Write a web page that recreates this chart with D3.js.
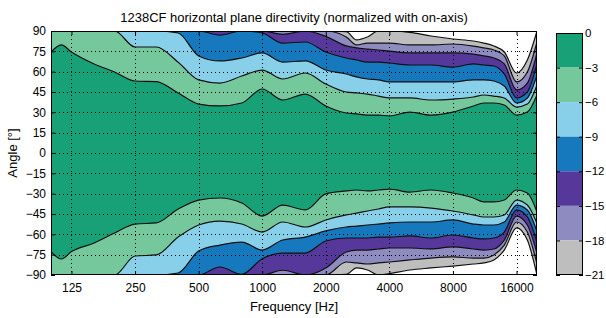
<!DOCTYPE html>
<html>
<head>
<meta charset="utf-8">
<script src="https://cdn.jsdelivr.net/npm/d3@7"></script>
<style>
  body { margin: 0; background: #fff; overflow: hidden; }
  svg { display: block; }
  text { font-family: "Liberation Sans", Arial, sans-serif; fill: #000; }
</style>
</head>
<body>
<div id="chart"></div>
<script>
// frequency grid (Hz) at which the contour angles were read
const freqs = [100, 112, 125, 160, 200, 250, 315, 400, 500, 630, 800, 1000, 1250, 1600, 2000,
               2500, 2800, 3150, 3550, 4000, 5000, 6300, 8000, 10000, 11200, 12500, 14000, 16000, 18000, 20000];

const freqTicks = [125, 250, 500, 1000, 2000, 4000, 8000, 16000];
const angleTicks = [90, 75, 60, 45, 30, 15, 0, -15, -30, -45, -60, -75, -90];
const levels = [0, -3, -6, -9, -12, -15, -18, -21];
const bandColors = ["#18a077", "#75c79c", "#88cfea", "#1679be", "#56389a", "#8d8bc0", "#bebebe", "#ffffff"];

// contour angle (deg) of each level, positive side
const up3  = [74.5, 79.7, 74.5, 65.7, 59.8, 53.1, 52.7, 44.3, 36.1, 34.7, 36.9, 47.2, 39.1, 43.5, 34.7,
              29.5, 28.8, 28.0, 28.0, 27.3, 30.2, 28.0, 30.2, 34.7, 36.9, 36.9, 35.4, 28.0, 30.2, 42.8];
const up6  = [90, 90, 90, 90, 90, 78.2, 78.2, 67, 53.9, 51.6, 56.8, 61.2, 54.6, 59.0, 50.9,
              45.0, 44.3, 43.5, 42.0, 40.6, 40.6, 39.1, 39.8, 41.3, 42.8, 42.0, 40.6, 33.9, 36.1, 50.2];
const up9  = [90, 90, 90, 90, 90, 90, 90, 88.5, 71.6, 67.9, 70.1, 73.8, 67.1, 67.9, 61.2,
              58.3, 56.1, 54.6, 53.9, 52.4, 52.4, 52.4, 52.4, 53.9, 53.9, 53.1, 49.4, 36.9, 40.6, 57.5];
const up12 = [90, 90, 90, 90, 90, 90, 90, 90, 90, 87, 90, 88.5, 81.1, 81.9, 74.5,
              70.1, 68.6, 67.1, 67.1, 66.4, 64.9, 64.9, 63.4, 65.7, 64.9, 64.2, 58.3, 40.6, 45, 66];
const up15 = [90, 90, 90, 90, 90, 90, 90, 90, 90, 90, 90, 90, 87.5, 90, 86,
              79, 77.5, 76.7, 76.0, 75.2, 73.8, 73.8, 73.8, 73.0, 71.6, 70.1, 65.7, 46.5, 51.6, 74];
const up18 = [90, 90, 90, 90, 90, 90, 90, 90, 90, 90, 90, 90, 90, 90, 90,
              85.6, 79.7, 81.1, 81.1, 81.1, 79.7, 79.7, 80.4, 78.9, 77.5, 76, 71.6, 52.4, 59.8, 82];
const up21 = [90, 90, 90, 90, 90, 90, 90, 90, 90, 90, 90, 90, 90, 90, 90,
              89.5, 83.4, 85.6, 90, 90, 89, 86.3, 84.1, 82.6, 81.1, 78.9, 74.5, 59, 68.6, 90];

// negative side
const lo3  = [-72.8, -78.2, -72.7, -66.4, -59.0, -52.4, -51.6, -41.3, -34.7, -33.2, -36.9, -46.5, -38.4, -42.0, -30.2,
              -28.0, -27.3, -28.0, -27.3, -26.6, -28.8, -27.3, -29.5, -33.2, -36.1, -36.1, -34.7, -27.3, -29.5, -43.5];
const lo6  = [-90, -90, -90, -90, -90, -76, -75.2, -62, -53.1, -50.2, -52.4, -58.3, -50.9, -54.6, -49.4,
              -45.7, -44.3, -42.8, -41.3, -39.8, -39.8, -40.6, -42.8, -45.7, -47.2, -47.2, -45.7, -34.7, -38.4, -52];
const lo9  = [-90, -90, -90, -90, -90, -90, -90, -88.5, -72.3, -67.9, -65.7, -71.6, -64.2, -62, -57.5,
              -54.6, -53.9, -53.1, -52.4, -51.6, -50.9, -50.9, -49.4, -52.4, -53.1, -53.1, -50.9, -38.4, -42, -58];
const lo12 = [-90, -90, -90, -90, -90, -90, -90, -90, -90, -84.1, -89.5, -78, -73.8, -73.8, -64.9,
              -62.7, -62.7, -62.7, -62, -62, -61.2, -62.7, -60.5, -62.7, -63.4, -62.7, -58.3, -42, -47.2, -66];
const lo15 = [-90, -90, -90, -90, -90, -90, -90, -90, -90, -90, -90, -90, -86.5, -90, -84.8,
              -73, -71.6, -71.6, -70.8, -70.1, -70.1, -70.8, -69.3, -70.8, -71.6, -70.8, -64.2, -46.5, -53.1, -74];
const lo18 = [-90, -90, -90, -90, -90, -90, -90, -90, -90, -90, -90, -90, -90, -90, -90,
              -80.4, -81.1, -81.9, -81.1, -80.4, -78.9, -77.5, -76.7, -77.5, -77.5, -75.2, -67.9, -50.9, -58.3, -82];
const lo21 = [-90, -90, -90, -90, -90, -90, -90, -90, -90, -90, -90, -90, -90, -90, -90,
              -89.5, -84.8, -86.3, -90, -89, -86.3, -84.8, -83.4, -81.9, -81.1, -78.9, -71.6, -55.3, -64.2, -90];

const upper = [up3, up6, up9, up12, up15, up18, up21];
const lower = [lo3, lo6, lo9, lo12, lo15, lo18, lo21];

// layout
const W = 606, H = 318;
const plot = { left: 51, right: 537, top: 31, bottom: 275 };
const bar = { left: 556, right: 583, top: 33, bottom: 275 };

const svg = d3.select("#chart").append("svg")
    .attr("width", W)
    .attr("height", H);

const x = d3.scaleLog().domain([100, 20000]).range([plot.left, plot.right]);
const y = d3.scaleLinear().domain([-90, 90]).range([plot.bottom, plot.top]);

svg.append("clipPath").attr("id", "clip")
  .append("rect")
    .attr("x", plot.left).attr("y", plot.top)
    .attr("width", plot.right - plot.left).attr("height", plot.bottom - plot.top);

const g = svg.append("g").attr("clip-path", "url(#clip)");

g.append("rect")
    .attr("x", plot.left).attr("y", plot.top)
    .attr("width", plot.right - plot.left).attr("height", plot.bottom - plot.top)
    .attr("fill", bandColors[0]);

const pts = arr => arr.map((a, i) => ({ f: freqs[i], a: a }));

// filled bands, from the -3 contour outwards
upper.forEach((arr, i) => {
  g.append("path")
      .datum(pts(arr))
      .attr("fill", bandColors[i + 1])
      .attr("d", d3.area().x(d => x(d.f)).y0(y(90)).y1(d => y(d.a)).curve(d3.curveMonotoneX));
});
lower.forEach((arr, i) => {
  g.append("path")
      .datum(pts(arr))
      .attr("fill", bandColors[i + 1])
      .attr("d", d3.area().x(d => x(d.f)).y0(y(-90)).y1(d => y(d.a)).curve(d3.curveMonotoneX));
});

// contour lines
const line = d3.line().x(d => x(d.f)).y(d => y(d.a)).curve(d3.curveMonotoneX);
upper.concat(lower).forEach(arr => {
  g.append("path")
      .datum(pts(arr))
      .attr("fill", "none")
      .attr("stroke", "#111")
      .attr("stroke-width", 1.2)
      .attr("d", line);
});

// dotted grid
svg.append("g").selectAll("line")
  .data(freqTicks)
  .join("line")
    .attr("x1", d => Math.round(x(d)) + 0.5).attr("x2", d => Math.round(x(d)) + 0.5)
    .attr("y1", plot.top).attr("y2", plot.bottom)
    .attr("stroke", "#000").attr("stroke-dasharray", "1,3");
svg.append("g").selectAll("line")
  .data(angleTicks.filter(d => Math.abs(d) < 90))
  .join("line")
    .attr("x1", plot.left).attr("x2", plot.right)
    .attr("y1", d => Math.round(y(d)) + 0.5).attr("y2", d => Math.round(y(d)) + 0.5)
    .attr("stroke", "#000").attr("stroke-dasharray", "1,3");

// axes
const styleAxis = (sel, size = 12) => {
  sel.select(".domain").remove();
  sel.selectAll("text").attr("font-size", size).attr("font-family", "Liberation Sans, Arial, sans-serif");
};

svg.append("g")
    .attr("transform", `translate(0,${plot.bottom})`)
    .call(d3.axisBottom(x).tickValues(freqTicks).tickFormat(d3.format("d")).tickSize(-4).tickPadding(8))
    .call(styleAxis);
svg.append("g")
    .attr("transform", `translate(0,${plot.top})`)
    .call(d3.axisTop(x).tickValues(freqTicks).tickFormat("").tickSize(-4))
    .call(styleAxis);
svg.append("g")
    .attr("transform", `translate(${plot.left},0)`)
    .call(d3.axisLeft(y).tickValues(angleTicks).tickSize(-4).tickPadding(5))
    .call(styleAxis);
svg.append("g")
    .attr("transform", `translate(${plot.right},0)`)
    .call(d3.axisRight(y).tickValues(angleTicks).tickFormat("").tickSize(-4))
    .call(styleAxis);

svg.append("rect")
    .attr("x", plot.left + 0.5).attr("y", plot.top + 0.5)
    .attr("width", plot.right - plot.left - 1).attr("height", plot.bottom - plot.top - 1)
    .attr("fill", "none").attr("stroke", "#000");

// labels
svg.append("text")
    .attr("x", (plot.left + plot.right) / 2).attr("y", 22)
    .attr("text-anchor", "middle").attr("font-size", 13)
    .text("1238CF horizontal plane directivity (normalized with on-axis)");
svg.append("text")
    .attr("x", (plot.left + plot.right) / 2).attr("y", 311)
    .attr("text-anchor", "middle").attr("font-size", 13)
    .text("Frequency [Hz]");
svg.append("text")
    .attr("transform", `translate(17,${y(0)}) rotate(-90)`)
    .attr("text-anchor", "middle").attr("font-size", 13)
    .text("Angle [°]");

// colorbar
const cy = d3.scaleLinear().domain([-21, 0]).range([bar.bottom, bar.top]);
svg.append("g").selectAll("rect")
  .data(levels.slice(1))
  .join("rect")
    .attr("x", bar.left).attr("width", bar.right - bar.left)
    .attr("y", d => cy(d + 3)).attr("height", d => cy(d) - cy(d + 3))
    .attr("fill", (d, i) => bandColors[i]);
svg.append("g")
    .attr("transform", `translate(${bar.right},0)`)
    .call(d3.axisRight(cy).tickValues(levels).tickSize(-4).tickPadding(2))
    .call(styleAxis, 11.5);
svg.append("g")
    .attr("transform", `translate(${bar.left},0)`)
    .call(d3.axisLeft(cy).tickValues(levels).tickFormat("").tickSize(-4))
    .call(styleAxis);
svg.append("rect")
    .attr("x", bar.left + 0.5).attr("y", bar.top + 0.5)
    .attr("width", bar.right - bar.left - 1).attr("height", bar.bottom - bar.top - 1)
    .attr("fill", "none").attr("stroke", "#000");
</script>
</body>
</html>
